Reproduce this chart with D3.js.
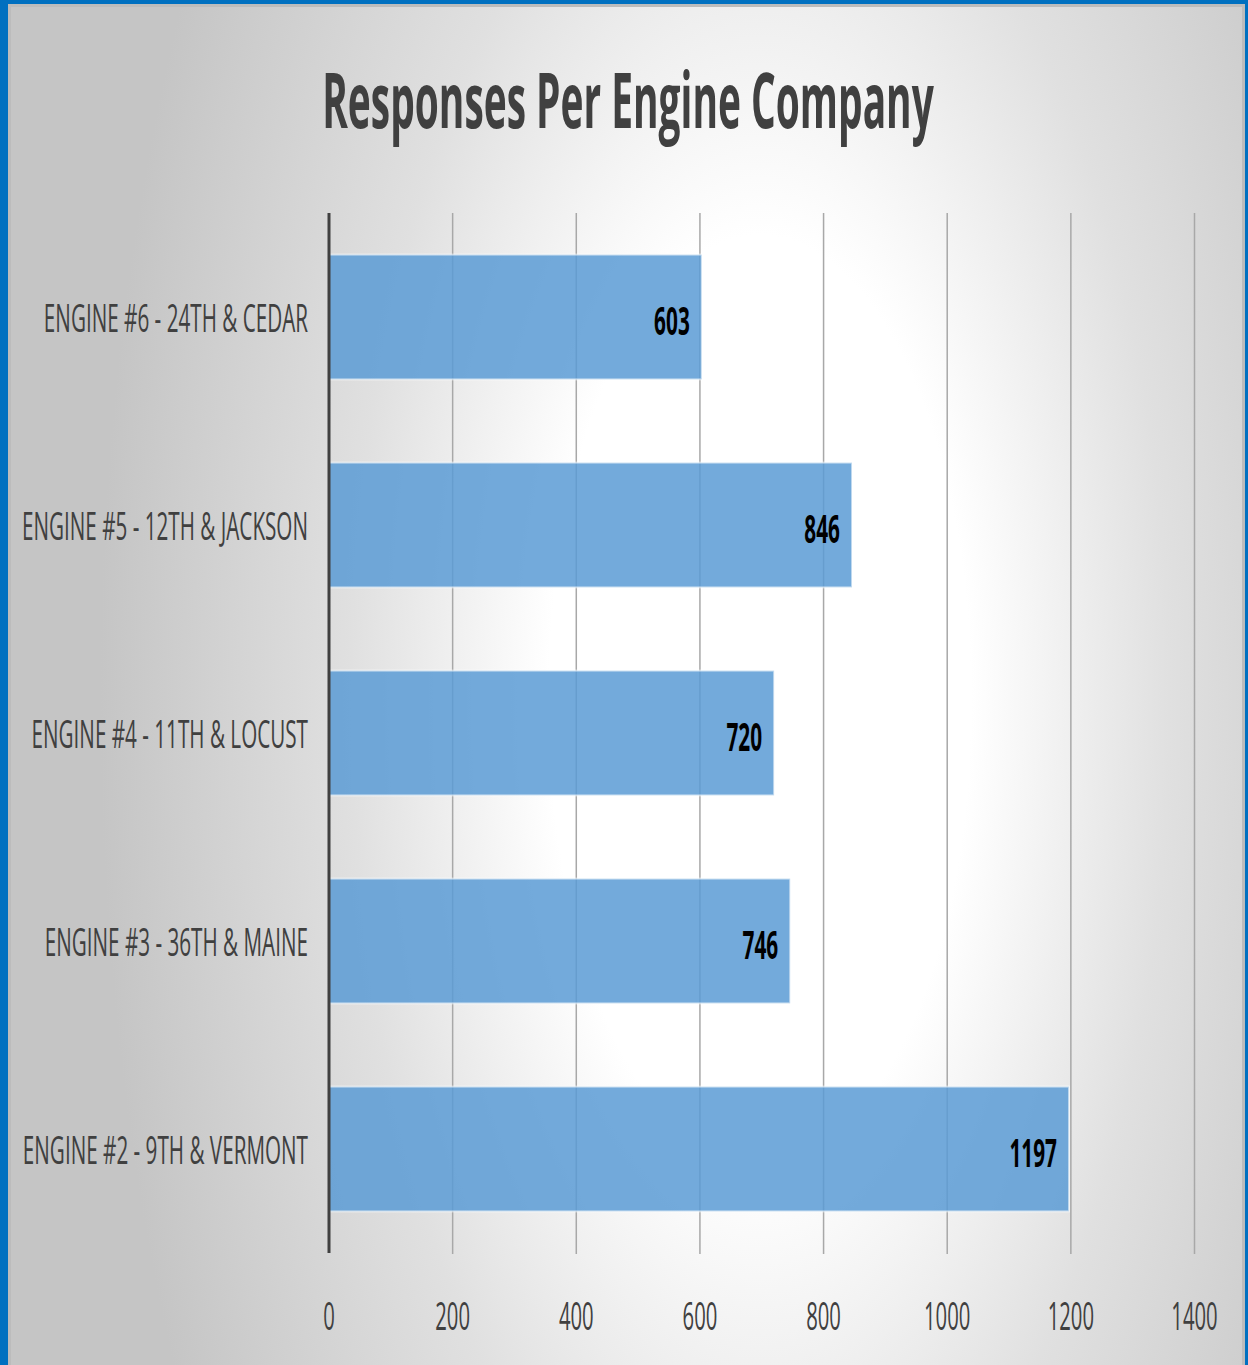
<!DOCTYPE html>
<html>
<head>
<meta charset="utf-8">
<script src="https://cdn.jsdelivr.net/npm/d3@7"></script>
<style>
  html, body { margin: 0; padding: 0; background: #fff; }
  svg { display: block; }
</style>
</head>
<body>
<svg id="chart" width="1248" height="1365"></svg>
<script>
const title = "Responses Per Engine Company";
const categories = [
  "ENGINE #6 - 24TH & CEDAR",
  "ENGINE #5 - 12TH & JACKSON",
  "ENGINE #4 - 11TH & LOCUST",
  "ENGINE #3 - 36TH & MAINE",
  "ENGINE #2 - 9TH & VERMONT"
];
const responses = [603, 846, 720, 746, 1197];
const tickValues = [0, 200, 400, 600, 800, 1000, 1200, 1400];

const W = 1248, H = 1365;
const svg = d3.select("#chart");
const defs = svg.append("defs");

// background gradient
const grad = defs.append("radialGradient")
  .attr("id", "bg")
  .attr("gradientUnits", "userSpaceOnUse")
  .attr("cx", 760).attr("cy", 700).attr("r", 660)
  .attr("gradientTransform", "translate(760,700) scale(1,2.2) translate(-760,-700)");
grad.append("stop").attr("offset", 0).attr("stop-color", "#ffffff");
grad.append("stop").attr("offset", 0.32).attr("stop-color", "#ffffff");
grad.append("stop").attr("offset", 0.62).attr("stop-color", "#e0e0e0");
grad.append("stop").attr("offset", 1).attr("stop-color", "#c5c5c5");

svg.append("rect").attr("x", 0).attr("y", 0).attr("width", W).attr("height", H).attr("fill", "#0070c0");
svg.append("rect").attr("x", 8.5).attr("y", 4).attr("width", 1245 - 8.5).attr("height", H - 4)
  .attr("fill", "url(#bg)");
svg.append("rect").attr("x", 9.5).attr("y", 5.5).attr("width", 1245 - 11).attr("height", H)
  .attr("fill", "none").attr("stroke", "#bcbcbc").attr("stroke-width", 3);

const FONT = "'Open Sans', 'DejaVu Sans', sans-serif";
const SX = 0.52;

// scales
const x = d3.scaleLinear().domain([0, 1400]).range([329, 1194.5]);
const y = d3.scaleBand().domain(categories).range([213, 1253]).paddingInner(0.4).paddingOuter(0.2);

// gridlines
const grid = svg.append("g");
grid.selectAll("line").data(tickValues.filter(d => d > 0)).join("line")
  .attr("x1", d => x(d)).attr("x2", d => x(d))
  .attr("y1", 213).attr("y2", 1254)
  .attr("stroke", "#a8a8a8").attr("stroke-width", 1.5);

// bars
const data = categories.map((c, i) => ({ c, v: responses[i] }));
svg.append("g").selectAll("rect").data(data).join("rect")
  .attr("x", x(0))
  .attr("y", d => y(d.c))
  .attr("width", d => x(d.v) - x(0))
  .attr("height", y.bandwidth())
  .attr("fill", "#5b9bd5").attr("fill-opacity", 0.85)
  .attr("stroke", "#ffffff").attr("stroke-opacity", 0.55).attr("stroke-width", 2);

// y axis line
svg.append("line").attr("x1", x(0)).attr("x2", x(0)).attr("y1", 213).attr("y2", 1253)
  .attr("stroke", "#404040").attr("stroke-width", 3);

function condensed(sel, px, py, sx) {
  sel.attr("transform", `translate(${px},${py}) scale(${sx},1)`);
}

// category labels
const catG = svg.append("g");
data.forEach(d => {
  const t = catG.append("text")
    .attr("font-family", FONT).attr("font-size", 39).attr("fill", "#404040")
    .attr("text-anchor", "end").attr("dominant-baseline", "central")
    .text(d.c);
  condensed(t, 308, y(d.c) + y.bandwidth() / 2, 0.53);
});

// value labels
const valG = svg.append("g");
data.forEach(d => {
  const t = valG.append("text")
    .attr("font-family", FONT).attr("font-size", 40).attr("font-weight", "bold").attr("fill", "#000")
    .attr("text-anchor", "end").attr("dominant-baseline", "central")
    .text(d.v);
  condensed(t, x(d.v) - 12, y(d.c) + y.bandwidth() / 2 + 2, SX);
});

// x tick labels
const tickG = svg.append("g");
tickValues.forEach(v => {
  const t = tickG.append("text")
    .attr("font-family", FONT).attr("font-size", 39).attr("fill", "#404040")
    .attr("text-anchor", "middle")
    .text(v);
  condensed(t, x(v), 1330, SX);
});

// title
const tt = svg.append("text")
  .attr("font-family", FONT).attr("font-size", 77).attr("font-weight", "bold").attr("fill", "#404040")
  .attr("text-anchor", "middle")
  .text(title);
condensed(tt, 628, 128, 0.505);
</script>
</body>
</html>
